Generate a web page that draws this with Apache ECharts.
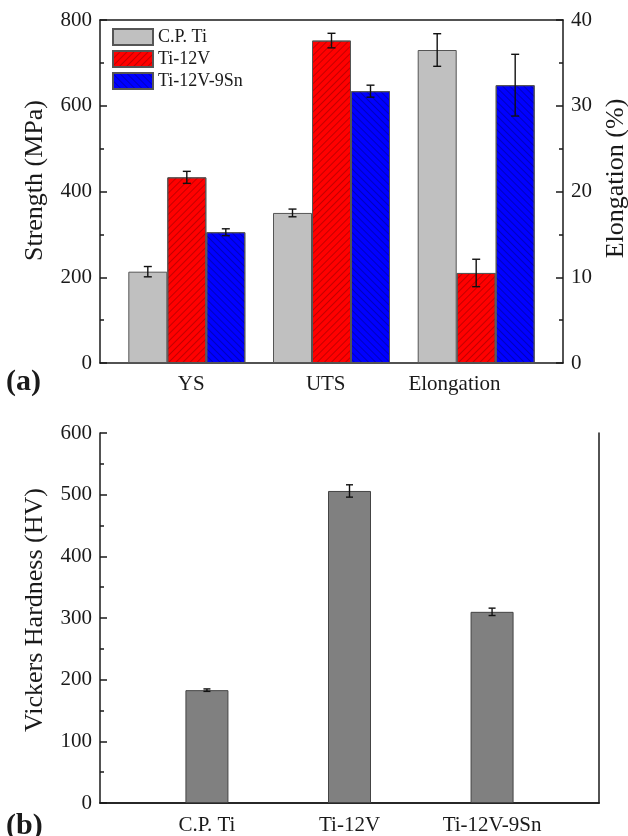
<!DOCTYPE html>
<html>
<head>
<meta charset="utf-8">
<script src="https://cdn.jsdelivr.net/npm/echarts@6/dist/echarts.min.js"></script>
<style>
  html, body { margin: 0; padding: 0; background: #fff; }
  #chart { width: 628px; height: 836px; }
</style>
</head>
<body>
<div id="chart"></div>
<script>
// ---- (a) tensile properties ----
const alloys = ['C.P. Ti', 'Ti-12V', 'Ti-12V-9Sn'];
const tensileCategories = ['YS', 'UTS', 'Elongation'];
const tensileLabelAt = [1.03, 1.96, 2.85];      // label anchor on the x scale
const ysValues = [213, 433, 305];                 // MPa
const ysErrors = [12, 14, 8];
const utsValues = [350, 752, 634];                // MPa
const utsErrors = [9, 17, 14];
const elongValues = [36.5, 10.5, 32.4];           // %
const elongErrors = [1.9, 1.6, 3.6];
const strengthTicks = [0, 200, 400, 600, 800];
const elongTicks = [0, 10, 20, 30, 40];

// ---- (b) hardness ----
const hardnessCategories = ['C.P. Ti', 'Ti-12V', 'Ti-12V-9Sn'];
const hardnessValues = [183, 506, 310];           // HV
const hardnessErrors = [2, 10, 6];
const hardnessTicks = [0, 100, 200, 300, 400, 500, 600];

const FONT = "'Liberation Serif', 'Times New Roman', serif";
const INK = '#1a1a1a';
const BAR_A = 39;   // bar width in panel (a)
const BAR_B = 43;   // bar width in panel (b)

const fills = ['#c0c0c0', '#ff0000', '#0000ff'];
const decals = [
  null,
  { symbol: 'rect', symbolSize: 1, color: 'rgba(120,0,0,0.45)', dashArrayX: [1, 0], dashArrayY: [1, 4], rotation: -Math.PI / 4 },
  { symbol: 'rect', symbolSize: 1, color: 'rgba(0,0,110,0.45)', dashArrayX: [1, 0], dashArrayY: [1, 4], rotation: Math.PI / 4 }
];

function itemStyleFor(i) {
  const s = { color: fills[i], borderColor: '#555', borderWidth: 1 };
  if (decals[i]) s.decal = decals[i];
  return s;
}

function errorBars(name, xAxisIndex, yAxisIndex, rows, offsetPx, capHalf) {
  return {
    type: 'custom',
    name: name + ' err',
    xAxisIndex, yAxisIndex,
    z: 10,
    silent: true,
    encode: { x: 0, y: 1 },
    data: rows,
    renderItem(params, api) {
      const x = api.value(0), v = api.value(1), e = api.value(2);
      const hi = api.coord([x, v + e]);
      const lo = api.coord([x, v - e]);
      const cx = hi[0] + offsetPx;
      const st = { stroke: '#111', lineWidth: 1.4 };
      return {
        type: 'group',
        children: [
          { type: 'line', shape: { x1: cx, y1: hi[1], x2: cx, y2: lo[1] }, style: st },
          { type: 'line', shape: { x1: cx - capHalf, y1: hi[1], x2: cx + capHalf, y2: hi[1] }, style: st },
          { type: 'line', shape: { x1: cx - capHalf, y1: lo[1], x2: cx + capHalf, y2: lo[1] }, style: st }
        ]
      };
    }
  };
}

const axisLine = { show: true, lineStyle: { color: INK, width: 1.5 } };
const tickLabel = { color: INK, fontFamily: FONT, fontSize: 21 };

function valueYAxis(gridIndex, position, ticks, name, nameGap, nameShift, showTicks) {
  const interval = ticks[1] - ticks[0];
  return {
    type: 'value', gridIndex, position,
    min: ticks[0], max: ticks[ticks.length - 1], interval,
    name, nameLocation: 'middle', nameGap,
    nameTextStyle: { color: INK, fontFamily: FONT, fontSize: 26, padding: [0, 0, 0, nameShift] },
    axisLine,
    axisTick: { show: showTicks, inside: true, length: 7, lineStyle: { color: INK, width: 1.5 } },
    minorTick: { show: showTicks, splitNumber: 2, length: 4, lineStyle: { color: INK, width: 1.5 } },
    axisLabel: showTicks ? Object.assign({ margin: 8 }, tickLabel) : { show: false },
    splitLine: { show: false }
  };
}

const series = [];
// strength bars (YS, UTS) and elongation bars share one plotting rectangle
alloys.forEach((a, i) => {
  series.push({
    type: 'bar', name: a, xAxisIndex: 0, yAxisIndex: 0,
    barWidth: BAR_A, barGap: '0%',
    itemStyle: itemStyleFor(i),
    data: [[1, ysValues[i]], [2, utsValues[i]]]
  });
});
alloys.forEach((a, i) => {
  series.push({
    type: 'bar', name: a, xAxisIndex: 2, yAxisIndex: 1,
    barWidth: BAR_A, barGap: '0%',
    itemStyle: itemStyleFor(i),
    data: [[3, elongValues[i]]]
  });
});
alloys.forEach((a, i) => {
  const off = (i - 1) * BAR_A;
  series.push(errorBars(a, 0, 0, [[1, ysValues[i], ysErrors[i]], [2, utsValues[i], utsErrors[i]]], off, 4));
  series.push(errorBars(a, 2, 1, [[3, elongValues[i], elongErrors[i]]], off, 4));
});
// hardness
series.push({
  type: 'bar', name: 'Vickers Hardness', xAxisIndex: 3, yAxisIndex: 2,
  barWidth: BAR_B,
  itemStyle: { color: '#808080', borderColor: '#444', borderWidth: 1 },
  data: hardnessValues.map((v, i) => [i + 1, v])
});
series.push(errorBars('Vickers Hardness', 3, 2, hardnessValues.map((v, i) => [i + 1, v, hardnessErrors[i]]), 0, 3.5));

const gridA = { left: 100, top: 20, width: 463, height: 343, outerBoundsMode: 'none', containLabel: false };
const option = {
  animation: false,
  backgroundColor: '#fff',
  legend: {
    data: alloys,
    orient: 'vertical',
    left: 107, top: 23,
    itemWidth: 40, itemHeight: 16, itemGap: 4,
    icon: 'rect',
    textStyle: { color: INK, fontFamily: FONT, fontSize: 18 }
  },
  grid: [
    Object.assign({}, gridA),
    Object.assign({}, gridA),
    { left: 100, top: 433, width: 499, height: 370, outerBoundsMode: 'none', containLabel: false }
  ],
  xAxis: [
    { type: 'value', gridIndex: 0, position: 'bottom', min: 0.4, max: 3.6,
      axisLine, axisTick: { show: false }, splitLine: { show: false },
      axisLabel: Object.assign({ margin: 11, customValues: tensileLabelAt,
        formatter: v => tensileCategories[tensileLabelAt.indexOf(v)] || '' }, tickLabel) },
    { type: 'value', gridIndex: 0, position: 'top', min: 0.4, max: 3.6,
      axisLine, axisTick: { show: false }, axisLabel: { show: false }, splitLine: { show: false } },
    { type: 'value', gridIndex: 1, position: 'bottom', min: 0.4, max: 3.6, show: false },
    { type: 'value', gridIndex: 2, position: 'bottom', min: 0.25, max: 3.75,
      axisLine, axisTick: { show: false }, splitLine: { show: false },
      axisLabel: Object.assign({ margin: 12, customValues: [1, 2, 3],
        formatter: v => hardnessCategories[v - 1] || '' }, tickLabel) },
    { type: 'value', gridIndex: 2, position: 'top', min: 0.25, max: 3.75,
      axisLine, axisTick: { show: false }, axisLabel: { show: false }, splitLine: { show: false } }
  ],
  yAxis: [
    valueYAxis(0, 'left', strengthTicks, 'Strength (MPa)', 52, 22, true),
    valueYAxis(1, 'right', elongTicks, 'Elongation (%)', 40, 26, true),
    valueYAxis(2, 'left', hardnessTicks, 'Vickers Hardness (HV)', 52, 16, true),
    valueYAxis(2, 'right', hardnessTicks, '', 0, 0, false)
  ],
  graphic: [
    { type: 'text', left: 6, top: 367, style: { text: '(a)', fill: INK, font: 'bold 30px ' + FONT } },
    { type: 'text', left: 6, top: 811, style: { text: '(b)', fill: INK, font: 'bold 30px ' + FONT } }
  ],
  series
};

const chart = echarts.init(document.getElementById('chart'), null, { renderer: 'canvas' });
chart.setOption(option);
</script>
</body>
</html>
